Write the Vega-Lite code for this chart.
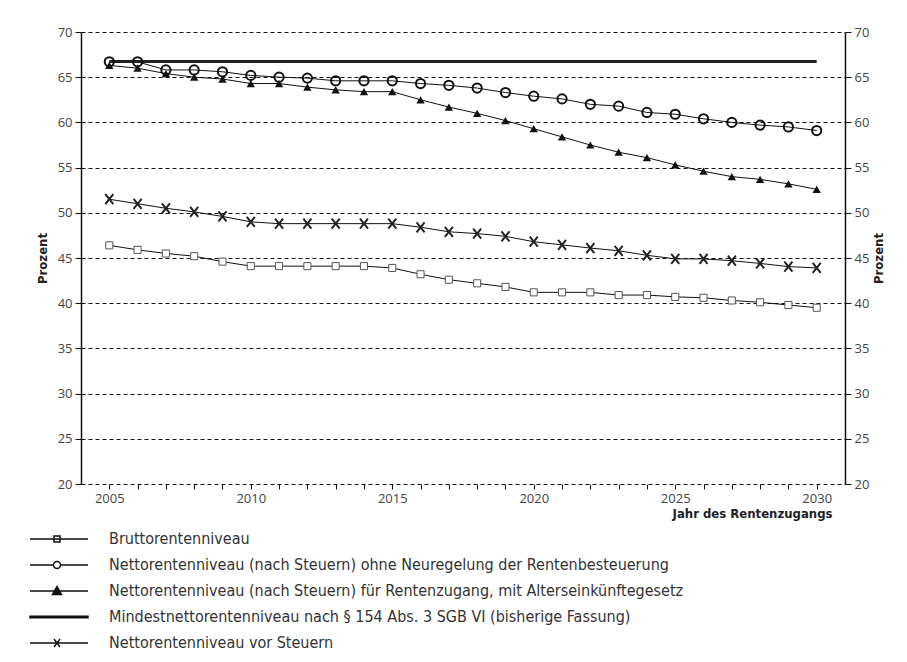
{
  "$schema": "https://vega.github.io/schema/vega-lite/v6.json",
  "width": 764,
  "height": 452,
  "autosize": {"type": "none"},
  "padding": {"left": 81, "top": 32, "right": 62, "bottom": 178},
  "background": "white",
  "config": {
    "view": {"stroke": null},
    "axis": {
      "labelFont": "Open Sans",
      "labelFontSize": 13,
      "labelColor": "#444",
      "titleFont": "DejaVu Sans Condensed",
      "titleFontWeight": "bold",
      "titleFontSize": 13,
      "titleColor": "#222",
      "domainColor": "#111",
      "tickColor": "#111"
    },
    "axisX": {"labelOverlap": false, "labelFlush": false},
    "legend": {"padding": 0}
  },
  "data": {
    "values": [
      {"year": 2005, "s": "B", "v": 46.4}, {"year": 2006, "s": "B", "v": 45.9}, {"year": 2007, "s": "B", "v": 45.5}, {"year": 2008, "s": "B", "v": 45.2}, {"year": 2009, "s": "B", "v": 44.6}, {"year": 2010, "s": "B", "v": 44.1}, {"year": 2011, "s": "B", "v": 44.1}, {"year": 2012, "s": "B", "v": 44.1}, {"year": 2013, "s": "B", "v": 44.1}, {"year": 2014, "s": "B", "v": 44.1}, {"year": 2015, "s": "B", "v": 43.9}, {"year": 2016, "s": "B", "v": 43.2}, {"year": 2017, "s": "B", "v": 42.6}, {"year": 2018, "s": "B", "v": 42.2}, {"year": 2019, "s": "B", "v": 41.8}, {"year": 2020, "s": "B", "v": 41.2}, {"year": 2021, "s": "B", "v": 41.2}, {"year": 2022, "s": "B", "v": 41.2}, {"year": 2023, "s": "B", "v": 40.9}, {"year": 2024, "s": "B", "v": 40.9}, {"year": 2025, "s": "B", "v": 40.7}, {"year": 2026, "s": "B", "v": 40.6}, {"year": 2027, "s": "B", "v": 40.3}, {"year": 2028, "s": "B", "v": 40.1}, {"year": 2029, "s": "B", "v": 39.8}, {"year": 2030, "s": "B", "v": 39.5},
      {"year": 2005, "s": "O", "v": 66.7}, {"year": 2006, "s": "O", "v": 66.7}, {"year": 2007, "s": "O", "v": 65.8}, {"year": 2008, "s": "O", "v": 65.8}, {"year": 2009, "s": "O", "v": 65.6}, {"year": 2010, "s": "O", "v": 65.2}, {"year": 2011, "s": "O", "v": 65.0}, {"year": 2012, "s": "O", "v": 64.9}, {"year": 2013, "s": "O", "v": 64.6}, {"year": 2014, "s": "O", "v": 64.6}, {"year": 2015, "s": "O", "v": 64.6}, {"year": 2016, "s": "O", "v": 64.3}, {"year": 2017, "s": "O", "v": 64.1}, {"year": 2018, "s": "O", "v": 63.8}, {"year": 2019, "s": "O", "v": 63.3}, {"year": 2020, "s": "O", "v": 62.9}, {"year": 2021, "s": "O", "v": 62.6}, {"year": 2022, "s": "O", "v": 62.0}, {"year": 2023, "s": "O", "v": 61.8}, {"year": 2024, "s": "O", "v": 61.1}, {"year": 2025, "s": "O", "v": 60.9}, {"year": 2026, "s": "O", "v": 60.4}, {"year": 2027, "s": "O", "v": 60.0}, {"year": 2028, "s": "O", "v": 59.7}, {"year": 2029, "s": "O", "v": 59.5}, {"year": 2030, "s": "O", "v": 59.1},
      {"year": 2005, "s": "T", "v": 66.3}, {"year": 2006, "s": "T", "v": 66.0}, {"year": 2007, "s": "T", "v": 65.4}, {"year": 2008, "s": "T", "v": 65.0}, {"year": 2009, "s": "T", "v": 64.8}, {"year": 2010, "s": "T", "v": 64.3}, {"year": 2011, "s": "T", "v": 64.3}, {"year": 2012, "s": "T", "v": 63.9}, {"year": 2013, "s": "T", "v": 63.6}, {"year": 2014, "s": "T", "v": 63.4}, {"year": 2015, "s": "T", "v": 63.4}, {"year": 2016, "s": "T", "v": 62.5}, {"year": 2017, "s": "T", "v": 61.7}, {"year": 2018, "s": "T", "v": 61.0}, {"year": 2019, "s": "T", "v": 60.2}, {"year": 2020, "s": "T", "v": 59.3}, {"year": 2021, "s": "T", "v": 58.4}, {"year": 2022, "s": "T", "v": 57.5}, {"year": 2023, "s": "T", "v": 56.7}, {"year": 2024, "s": "T", "v": 56.1}, {"year": 2025, "s": "T", "v": 55.3}, {"year": 2026, "s": "T", "v": 54.6}, {"year": 2027, "s": "T", "v": 54.0}, {"year": 2028, "s": "T", "v": 53.7}, {"year": 2029, "s": "T", "v": 53.2}, {"year": 2030, "s": "T", "v": 52.6},
      {"year": 2005, "s": "M", "v": 66.75}, {"year": 2030, "s": "M", "v": 66.75},
      {"year": 2005, "s": "X", "v": 51.5}, {"year": 2006, "s": "X", "v": 51.0}, {"year": 2007, "s": "X", "v": 50.5}, {"year": 2008, "s": "X", "v": 50.1}, {"year": 2009, "s": "X", "v": 49.6}, {"year": 2010, "s": "X", "v": 49.0}, {"year": 2011, "s": "X", "v": 48.8}, {"year": 2012, "s": "X", "v": 48.8}, {"year": 2013, "s": "X", "v": 48.8}, {"year": 2014, "s": "X", "v": 48.8}, {"year": 2015, "s": "X", "v": 48.8}, {"year": 2016, "s": "X", "v": 48.4}, {"year": 2017, "s": "X", "v": 47.9}, {"year": 2018, "s": "X", "v": 47.7}, {"year": 2019, "s": "X", "v": 47.4}, {"year": 2020, "s": "X", "v": 46.8}, {"year": 2021, "s": "X", "v": 46.45}, {"year": 2022, "s": "X", "v": 46.1}, {"year": 2023, "s": "X", "v": 45.8}, {"year": 2024, "s": "X", "v": 45.3}, {"year": 2025, "s": "X", "v": 44.9}, {"year": 2026, "s": "X", "v": 44.9}, {"year": 2027, "s": "X", "v": 44.7}, {"year": 2028, "s": "X", "v": 44.4}, {"year": 2029, "s": "X", "v": 44.05}, {"year": 2030, "s": "X", "v": 43.9}
    ]
  },
  "encoding": {
    "x": {
      "field": "year",
      "type": "quantitative",
      "scale": {"domain": [2004, 2031], "nice": false, "zero": false},
      "axis": {
        "values": [2005, 2006, 2007, 2008, 2009, 2010, 2011, 2012, 2013, 2014, 2015, 2016, 2017, 2018, 2019, 2020, 2021, 2022, 2023, 2024, 2025, 2026, 2027, 2028, 2029, 2030],
        "labelExpr": "datum.value % 5 == 0 ? datum.label : ''",
        "format": "d",
        "domain": false,
        "grid": false,
        "tickSize": 5,
        "labelPadding": 3,
        "labelOverlap": false,
        "labelFlush": false,
        "title": "Jahr des Rentenzugangs",
        "titleX": 751,
        "titleY": 29,
        "titleAlign": "right",
        "titleAnchor": null,
        "titleBaseline": "middle"
      }
    }
  },
  "layer": [
    {
      "transform": [{"filter": "datum.s != 'M'"}],
      "mark": {"type": "line", "color": "#111", "strokeWidth": 1},
      "encoding": {
        "y": {
          "field": "v",
          "type": "quantitative",
          "scale": {"domain": [20, 70], "nice": false, "zero": false},
          "axis": {
            "orient": "left",
            "values": [20, 25, 30, 35, 40, 45, 50, 55, 60, 65, 70],
            "grid": true,
            "gridColor": "#111",
            "gridDash": [4, 3],
            "gridWidth": 1,
            "domain": true,
            "domainWidth": 1.5,
            "tickSize": 6,
            "labelPadding": 3,
            "title": "Prozent",
            "titleAngle": 270,
            "titleX": -39,
            "titleY": 226,
            "titleAlign": "center",
            "titleBaseline": "middle"
          }
        },
        "detail": {"field": "s", "type": "nominal"}
      }
    },
    {
      "transform": [{"filter": "datum.s == 'M'"}],
      "mark": {"type": "line", "color": "#222", "strokeWidth": 3},
      "encoding": {
        "y": {
          "field": "v",
          "type": "quantitative",
          "scale": {"domain": [20, 70], "nice": false, "zero": false},
          "axis": {
            "orient": "right",
            "values": [20, 25, 30, 35, 40, 45, 50, 55, 60, 65, 70],
            "grid": false,
            "domain": true,
            "domainWidth": 1.5,
            "tickSize": 6,
            "labelPadding": 3,
            "title": "Prozent",
            "titleAngle": 270,
            "titleX": 33,
            "titleY": 226,
            "titleAlign": "center",
            "titleBaseline": "middle"
          }
        }
      }
    },
    {
      "transform": [{"filter": "datum.s == 'B'"}],
      "mark": {"type": "point", "shape": "square", "filled": true, "fill": "white", "stroke": "#555", "strokeWidth": 1, "size": 50, "opacity": 1},
      "encoding": {"y": {"field": "v", "type": "quantitative", "axis": null}}
    },
    {
      "transform": [{"filter": "datum.s == 'O'"}],
      "mark": {"type": "point", "shape": "circle", "filled": false, "stroke": "#111", "strokeWidth": 2, "size": 85, "opacity": 1},
      "encoding": {"y": {"field": "v", "type": "quantitative", "axis": null}}
    },
    {
      "transform": [{"filter": "datum.s == 'T'"}],
      "mark": {"type": "point", "shape": "triangle-up", "filled": true, "fill": "#111", "size": 70, "opacity": 1},
      "encoding": {"y": {"field": "v", "type": "quantitative", "axis": null}}
    },
    {
      "transform": [{"filter": "datum.s == 'X'"}],
      "mark": {"type": "point", "shape": "M-0.8,-1L0.8,1M0.8,-1L-0.8,1", "filled": false, "stroke": "#222", "strokeWidth": 2, "size": 100, "opacity": 1},
      "encoding": {"y": {"field": "v", "type": "quantitative", "axis": null}}
    },
    {
      "transform": [{"filter": "false"}],
      "mark": {"type": "point", "filled": true, "stroke": "#111", "strokeWidth": 1.2, "opacity": 1},
      "encoding": {
        "y": {"field": "v", "type": "quantitative", "axis": null},
        "shape": {
          "field": "s",
          "type": "nominal",
          "scale": {
            "domain": ["B", "O", "T", "M", "X"],
            "range": [
              "M-1,0H10.6M3.8,-0.6H5V0.6H3.8Z",
              "M-1,0H3.7M5.1,0H10.6M3.7,0A0.7,0.7 0 1 1 5.1,0A0.7,0.7 0 1 1 3.7,0",
              "M-1,0H10.6M4.4,-0.9L5.3,0.7H3.5Z",
              "M-1,-0.15H10.6V0.15H-1Z",
              "M-1,0H10.6M3.8,-0.8L5,0.8M5,-0.8L3.8,0.8"
            ]
          },
          "legend": {
            "orient": "none",
            "legendX": -54,
            "legendY": 499,
            "direction": "vertical",
            "title": null,
            "symbolSize": 100,
            "labelFont": "DejaVu Sans Condensed",
            "labelFontSize": 16,
            "labelColor": "#333",
            "labelOffset": 66,
            "labelLimit": 800,
            "rowPadding": 10,
            "labelExpr": "{'B': 'Bruttorentenniveau', 'O': 'Nettorentenniveau (nach Steuern) ohne Neuregelung der Rentenbesteuerung', 'T': 'Nettorentenniveau (nach Steuern) für Rentenzugang, mit Alterseinkünftegesetz', 'M': 'Mindestnettorentenniveau nach § 154 Abs. 3 SGB VI (bisherige Fassung)', 'X': 'Nettorentenniveau vor Steuern'}[datum.value]",
            "encode": {"symbols": {"update": {"stroke": {"value": "#111"}, "strokeWidth": {"value": 1.3}, "opacity": {"value": 1}}}}
          }
        },
        "fill": {
          "field": "s",
          "type": "nominal",
          "scale": {
            "domain": ["B", "O", "T", "M", "X"],
            "range": ["white", "white", "#111", "#111", "white"]
          },
          "legend": {
            "orient": "none",
            "legendX": -54,
            "legendY": 499,
            "direction": "vertical",
            "title": null,
            "symbolSize": 100,
            "labelFont": "DejaVu Sans Condensed",
            "labelFontSize": 16,
            "labelColor": "#333",
            "labelOffset": 66,
            "labelLimit": 800,
            "rowPadding": 10,
            "labelExpr": "{'B': 'Bruttorentenniveau', 'O': 'Nettorentenniveau (nach Steuern) ohne Neuregelung der Rentenbesteuerung', 'T': 'Nettorentenniveau (nach Steuern) für Rentenzugang, mit Alterseinkünftegesetz', 'M': 'Mindestnettorentenniveau nach § 154 Abs. 3 SGB VI (bisherige Fassung)', 'X': 'Nettorentenniveau vor Steuern'}[datum.value]",
            "encode": {"symbols": {"update": {"stroke": {"value": "#111"}, "strokeWidth": {"value": 1.3}, "opacity": {"value": 1}}}}
          }
        }
      }
    }
  ],
  "resolve": {"axis": {"y": "independent"}}
}
